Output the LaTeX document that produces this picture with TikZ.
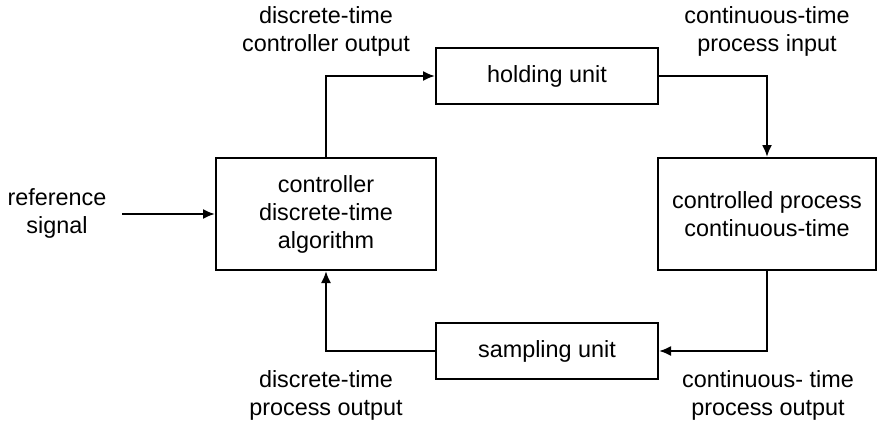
\documentclass[tikz,border=0pt]{standalone}
\usepackage{fontspec}
\setmainfont{Liberation Sans}
\usepackage{tikz}
\usetikzlibrary{arrows.meta}
\tikzset{
  node-box/.style={draw=black,line width=2pt,align=center,
    font=\fontsize{23.4}{28}\selectfont,inner sep=0pt},
  node-label/.style={align=center,font=\fontsize{23.4}{28}\selectfont,inner sep=0pt},
  arrow/.style={-{Latex[length=12pt,width=10pt]},line width=2pt,draw=black},
}

\begin{document}
\begin{tikzpicture}[x=1pt,y=-1pt]
  \useasboundingbox (0,0) rectangle (877,426);
  % blocks
  \node[node-box,minimum width=220pt,minimum height=112pt] (ctrl) at (326,214) {controller\\discrete-time\\algorithm};
  \node[node-box,minimum width=222pt,minimum height=56pt]  (hold) at (547,76)  {holding unit};
  \node[node-box,minimum width=218pt,minimum height=112pt] (proc) at (767,214) {controlled process\\continuous-time};
  \node[node-box,minimum width=222pt,minimum height=56pt]  (samp) at (547,351) {sampling unit};
  \coordinate (refin) at (122,214);
  % signals
  \node[node-label] (lref)  at (57,213.5) {reference\\signal};
  \node[node-label] (lcout) at (326,31)   {discrete-time\\controller output};
  \node[node-label] (lpin)  at (767,31)   {continuous-time\\process input};
  \node[node-label] (ldout) at (326,395)  {discrete-time\\process output};
  \node[node-label] (lcpo)  at (768,395)  {continuous- time\\process output};
  % connectors
  \draw[arrow] (refin) -- (ctrl.west);
  \draw[arrow] (ctrl.north) |- (hold.west);
  \draw[arrow] (hold.east) -| (proc.north);
  \draw[arrow] (proc.south) |- (samp.east);
  \draw[arrow] (samp.west) -| (ctrl.south);
\end{tikzpicture}
\end{document}
